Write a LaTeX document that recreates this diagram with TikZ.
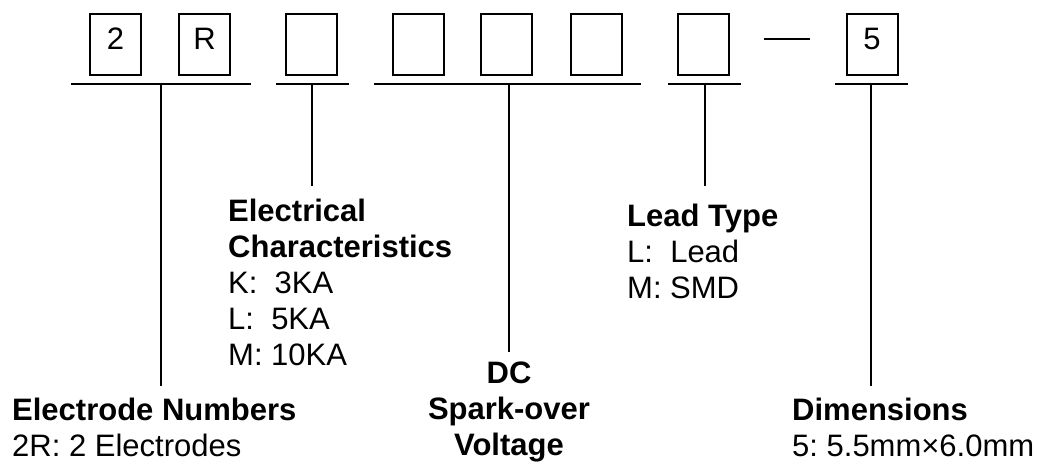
\documentclass[tikz,border=0pt]{standalone}
\usepackage{fontspec}
\setmainfont{Liberation Sans}
\frenchspacing
\begin{document}
\begin{tikzpicture}[x=1pt,y=-1pt,
  codebox/.style={draw,line width=2pt,minimum width=51pt,minimum height=61pt,inner sep=0pt,
    text height=22pt,text depth=13pt,font=\fontsize{31}{36}\selectfont},
  lbl/.style={inner sep=0pt,font=\fontsize{31}{36}\selectfont},
  ln/.style={line width=2pt}]
\useasboundingbox (0,0) rectangle (1040,464);
% code boxes
\node[codebox] (b1) at (115.5,44.5) {2};
\node[codebox] (b2) at (204.5,44.5) {R};
\node[codebox] (b3) at (311.5,44.5) {};
\node[codebox] (b4) at (418,44.5) {};
\node[codebox] (b5) at (506.5,44.5) {};
\node[codebox] (b6) at (596,44.5) {};
\node[codebox] (b7) at (703,44.5) {};
\node[codebox] (b8) at (872,44.5) {5};
\coordinate (da) at (764,39);
\coordinate (db) at (810,39);
\draw[ln] (da) -- (db);
% bars
\coordinate (h1a) at (71,84);  \coordinate (h1b) at (251,84);
\coordinate (h2a) at (276,84); \coordinate (h2b) at (349,84);
\coordinate (h3a) at (374,84); \coordinate (h3b) at (641,84);
\coordinate (h4a) at (668,84); \coordinate (h4b) at (741,84);
\coordinate (h5a) at (835,84); \coordinate (h5b) at (908,84);
\draw[ln] (h1a) -- (h1b);
\draw[ln] (h2a) -- (h2b);
\draw[ln] (h3a) -- (h3b);
\draw[ln] (h4a) -- (h4b);
\draw[ln] (h5a) -- (h5b);
% labels
\node[lbl,anchor=base west] (en) at (12,420)
  {\begin{tabular}[t]{@{}l@{}}\textbf{Electrode Numbers}\\2R: 2 Electrodes\end{tabular}};
\node[lbl,anchor=base west] (ec) at (228,221)
  {\begin{tabular}[t]{@{}l@{}}\textbf{Electrical}\\\textbf{Characteristics}\\K:\ \ 3KA\\L:\ \ 5KA\\M: 10KA\end{tabular}};
\node[lbl,anchor=base] (dc) at (509,383)
  {\begin{tabular}[t]{@{}c@{}}\textbf{DC}\\\textbf{Spark-over}\\\textbf{Voltage}\end{tabular}};
\node[lbl,anchor=base west] (lt) at (627,226)
  {\begin{tabular}[t]{@{}l@{}}\textbf{Lead Type}\\L:\ \ Lead\\M: SMD\end{tabular}};
\node[lbl,anchor=base west] (dm) at (792,420)
  {\begin{tabular}[t]{@{}l@{}}\textbf{Dimensions}\\5: 5.5mm×6.0mm\end{tabular}};
% stems
\coordinate (v1a) at (161,84); \coordinate (v1b) at (161,386);
\coordinate (v2a) at (312,84); \coordinate (v2b) at (312,186);
\coordinate (v3a) at (509,84); \coordinate (v3b) at (509,352);
\coordinate (v4a) at (705,84); \coordinate (v4b) at (705,186);
\coordinate (v5a) at (871,84); \coordinate (v5b) at (871,386);
\draw[ln] (v1a) -- (v1b);
\draw[ln] (v2a) -- (v2b);
\draw[ln] (v3a) -- (v3b);
\draw[ln] (v4a) -- (v4b);
\draw[ln] (v5a) -- (v5b);
\end{tikzpicture}
\end{document}
